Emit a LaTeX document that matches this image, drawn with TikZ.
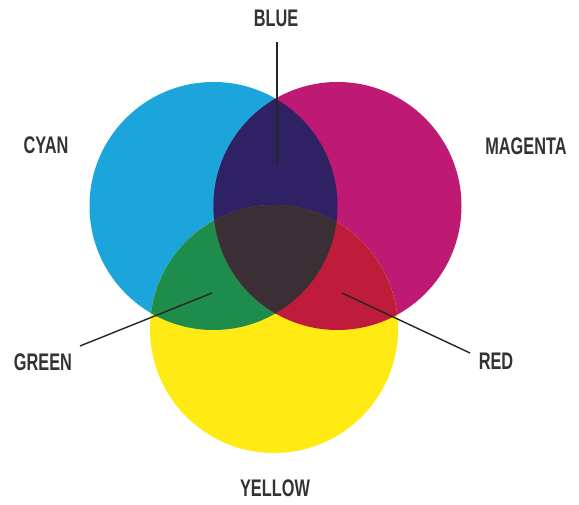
\documentclass[tikz,border=0pt]{standalone}
\usepackage{fontspec}
\setmainfont[FakeStretch=0.68]{Liberation Sans}
\begin{document}
\begin{tikzpicture}[x=1pt,y=-1pt,
  lbl/.style={text=black!80, font=\fontsize{24}{26}\selectfont\bfseries, inner sep=0pt, anchor=center},
  leader/.style={draw=black!85, line width=1.4pt}]
\definecolor{cC}{HTML}{1BA5DB}
\definecolor{cM}{HTML}{BE1A73}
\definecolor{cY}{HTML}{FFEA14}
\definecolor{cB}{HTML}{2E2264}
\definecolor{cG}{HTML}{1E8C4B}
\definecolor{cR}{HTML}{BE1C3A}
\definecolor{cK}{HTML}{3A2F35}
\useasboundingbox (0,0) rectangle (579,505);
\fill[white] (0,0) rectangle (579,505);
\coordinate (C) at (213.5,206);
\coordinate (M) at (337.5,206);
\coordinate (Y) at (274,329);
\def\rr{124}
\fill[cC] (C) circle[radius=\rr];
\fill[cM] (M) circle[radius=\rr];
\fill[cY] (Y) circle[radius=\rr];
\begin{scope}
  \clip (C) circle[radius=\rr];
  \fill[cB] (M) circle[radius=\rr];
\end{scope}
\begin{scope}
  \clip (C) circle[radius=\rr];
  \fill[cG] (Y) circle[radius=\rr];
\end{scope}
\begin{scope}
  \clip (M) circle[radius=\rr];
  \fill[cR] (Y) circle[radius=\rr];
\end{scope}
\begin{scope}
  \clip (C) circle[radius=\rr];
  \clip (M) circle[radius=\rr];
  \fill[cK] (Y) circle[radius=\rr];
\end{scope}
\node[lbl] (blue) at (276,18) {BLUE};
\node[lbl] (cyan) at (46,145) {CYAN};
\node[lbl] (magenta) at (526,146) {MAGENTA};
\node[lbl] (green) at (43,362) {GREEN};
\node[lbl] (red) at (496,361) {RED};
\node[lbl] (yellow) at (275,488) {YELLOW};
\coordinate (b1) at (277,42);
\coordinate (b2) at (277,164);
\coordinate (g1) at (212,293);
\coordinate (g2) at (80,346);
\coordinate (r1) at (342,293);
\coordinate (r2) at (470,353);
\draw[leader] (b1) -- (b2);
\draw[leader] (g1) -- (g2);
\draw[leader] (r1) -- (r2);
\end{tikzpicture}
\end{document}
